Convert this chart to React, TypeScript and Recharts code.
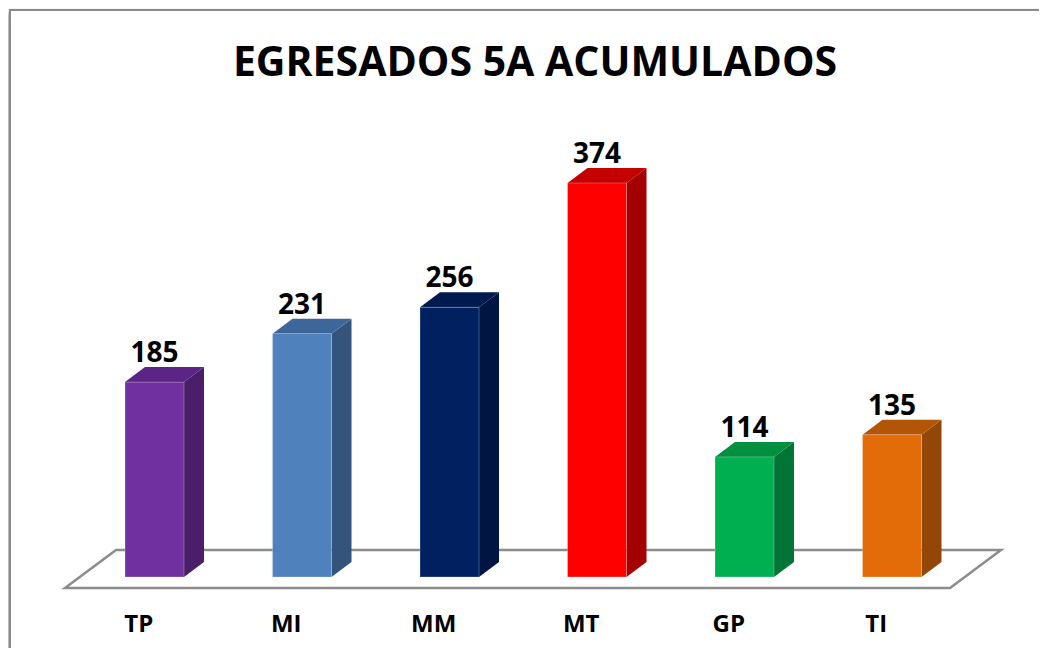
import React from 'react';
import { BarChart, Bar, XAxis, YAxis, LabelList } from 'recharts';

const categories = ['TP', 'MI', 'MM', 'MT', 'GP', 'TI'];
const values = [185, 231, 256, 374, 114, 135];
const frontColors = ['#7030A0', '#4F81BD', '#002060', '#FF0000', '#00B050', '#E36C09'];
const sideColors = ['#4A1E68', '#34547C', '#001541', '#A50000', '#007535', '#934706'];
const topColors = ['#5B2485', '#3E6698', '#001A50', '#C40000', '#009040', '#B35507'];
const title = 'EGRESADOS 5A ACUMULADOS';

const data = categories.map((c, i) => ({ name: c, value: values[i] }));

const W = 1047;
const H = 656;
const M_LEFT = 81;
const M_RIGHT = 81;
const BASE_Y = 577;
const Y_MAX = 400;
const PLOT_H = 421.4;
const M_TOP = BASE_Y - PLOT_H;
const X_AXIS_H = 30;
const M_BOTTOM = H - BASE_Y - X_AXIS_H;
const DX = 20;
const DY = 15;
const FONT = '"Open Sans", "Liberation Sans", Arial, sans-serif';

const Bar3D = (props: any) => {
  const { x, y, width, height, index } = props;
  const f = frontColors[index];
  const s = sideColors[index];
  const t = topColors[index];
  return (
    <g>
      <polygon
        points={`${x + width},${y} ${x + width + DX},${y - DY} ${x + width + DX},${y + height - DY} ${x + width},${y + height}`}
        fill={s}
      />
      <polygon
        points={`${x},${y} ${x + DX},${y - DY} ${x + width + DX},${y - DY} ${x + width},${y}`}
        fill={t}
      />
      <rect x={x} y={y} width={width} height={height} fill={f} stroke="rgba(255,255,255,0.25)" strokeWidth={1} />
    </g>
  );
};

const ValueLabel = (props: any) => {
  const { x, y, width, value } = props;
  return (
    <text
      x={x + width / 2}
      y={y - 20}
      textAnchor="middle"
      fontFamily={FONT}
      fontWeight={700}
      fontSize={28}
      fill="#000"
    >
      {value}
    </text>
  );
};

const CatTick = (props: any) => {
  const { x, y, payload } = props;
  return (
    <text
      x={x - 16}
      y={y}
      dy={55}
      textAnchor="middle"
      fontFamily={FONT}
      fontWeight={700}
      fontSize={24}
      fill="#000"
    >
      {payload.value}
    </text>
  );
};

export default function App() {
  const plotL = M_LEFT;
  const plotR = W - M_RIGHT;
  const floorPts = `${plotL - 16},${BASE_Y + 11} ${plotR - 16},${BASE_Y + 11} ${plotR + 35},${BASE_Y - 27} ${plotL + 35},${BASE_Y - 27}`;
  return (
    <div style={{ position: 'relative', margin: -8, width: W, height: H, overflow: 'hidden', background: '#fff' }}>
      <div
        style={{
          position: 'absolute',
          left: 9,
          top: 9,
          width: 1100,
          height: 700,
          border: '2px solid #8a8a8a',
          boxShadow: '-3px 3px 6px rgba(0,0,0,0.35)',
          background: '#fff',
        }}
      />
      <svg style={{ position: 'absolute', left: 0, top: 0 }} width={W} height={H}>
        <polygon points={floorPts} fill="#fff" stroke="#8c8c8c" strokeWidth={2.5} strokeLinejoin="miter" />
        <text
          x={535}
          y={76}
          textAnchor="middle"
          fontFamily={FONT}
          fontWeight={700}
          fontSize={41}
          fill="#000"
        >
          {title}
        </text>
      </svg>
      <div style={{ position: 'absolute', left: 0, top: 0 }}>
        <BarChart
          width={W}
          height={H}
          data={data}
          margin={{ top: M_TOP, right: M_RIGHT, bottom: M_BOTTOM, left: M_LEFT }}
        >
          <XAxis
            dataKey="name"
            height={X_AXIS_H}
            axisLine={false}
            tickLine={false}
            tickSize={0}
            tickMargin={0}
            tick={<CatTick />}
            interval={0}
          />
          <YAxis hide domain={[0, Y_MAX]} width={0} />
          <Bar dataKey="value" barSize={59} shape={<Bar3D />} isAnimationActive={false}>
            <LabelList dataKey="value" content={<ValueLabel />} />
          </Bar>
        </BarChart>
      </div>
    </div>
  );
}
